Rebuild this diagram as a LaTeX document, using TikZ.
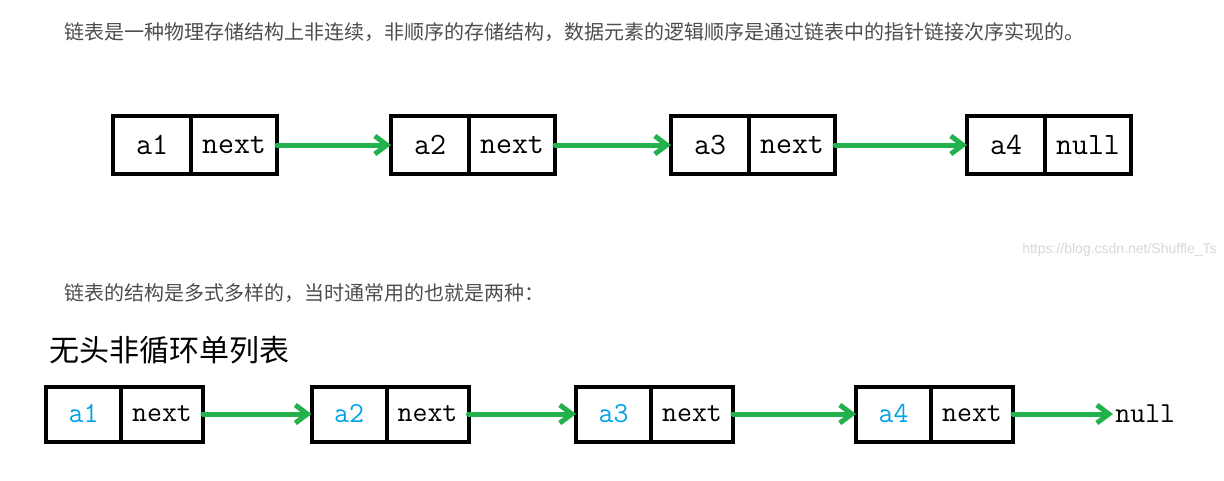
\documentclass[tikz,border=0pt]{standalone}
\usepackage{fontspec}
\usepackage{tikz}
\usetikzlibrary{arrows.meta,positioning}
\newfontfamily\cjk{Noto Sans CJK SC}
\newfontfamily\webfont{Liberation Sans}
\definecolor{linkgreen}{RGB}{34,177,76}
\definecolor{datablue}{RGB}{0,162,232}
\definecolor{bodygray}{RGB}{77,77,77}
\definecolor{markgray}{RGB}{215,215,215}
\tikzset{
  cell/.style={draw,line width=2pt,inner sep=0pt,outer sep=0pt},
  topcell/.style={cell,minimum height=29pt,font=\fontsize{15.5}{18}\selectfont\ttfamily},
  botcell/.style={cell,minimum height=27.5pt,font=\fontsize{14.5}{17}\selectfont\ttfamily},
  link/.style={-{Straight Barb[length=6pt,width=9pt]},draw=linkgreen,line width=2.5pt,line cap=round,line join=round}
}

\begin{document}
\begin{tikzpicture}[x=0.5pt,y=-0.5pt,node distance=0pt]
  \useasboundingbox (0,0) rectangle (1224,481);
  % text
  \node[anchor=west,inner sep=0pt,text=bodygray,font=\cjk\fontsize{10}{12}\selectfont] (intro) at (64,32)
    {链表是一种物理存储结构上非连续，非顺序的存储结构，数据元素的逻辑顺序是通过链表中的指针链接次序实现的。};
  \node[anchor=west,inner sep=0pt,text=bodygray,font=\cjk\fontsize{10}{12}\selectfont] (kinds) at (64,293)
    {链表的结构是多式多样的，当时通常用的也就是两种：};
  \node[anchor=west,inner sep=0pt,font=\cjk\fontsize{15}{18}\selectfont] (title) at (49,350)
    {无头非循环单列表};
  \node[anchor=east,inner sep=0pt,text=markgray,font=\webfont\fontsize{7}{8}\selectfont] (mark) at (1217,250)
    {https://blog.csdn.net/Shuffle\_Ts};

  % upper list
  \node[topcell,minimum width=39pt] (a_1) at (152,145) {a1};
  \node[topcell,minimum width=43pt,right=of a_1] (n_1) {next};
  \node[topcell,minimum width=39pt] (a_2) at (430,145) {a2};
  \node[topcell,minimum width=43pt,right=of a_2] (n_2) {next};
  \node[topcell,minimum width=39pt] (a_3) at (710,145) {a3};
  \node[topcell,minimum width=43pt,right=of a_3] (n_3) {next};
  \node[topcell,minimum width=39pt] (a_4) at (1006,145) {a4};
  \node[topcell,minimum width=43pt,right=of a_4] (n_4) {null};
  \path[link]
  (n_1) edge (a_2)
  (n_2) edge (a_3)
  (n_3) edge (a_4);

  % lower list
  \node[botcell,minimum width=37.5pt,text=datablue] (b_1) at (83.5,414) {a1};
  \node[botcell,minimum width=41pt,right=of b_1] (m_1) {next};
  \node[botcell,minimum width=37.5pt,text=datablue] (b_2) at (349,414) {a2};
  \node[botcell,minimum width=41pt,right=of b_2] (m_2) {next};
  \node[botcell,minimum width=37.5pt,text=datablue] (b_3) at (613.5,414) {a3};
  \node[botcell,minimum width=41pt,right=of b_3] (m_3) {next};
  \node[botcell,minimum width=37.5pt,text=datablue] (b_4) at (893.5,414) {a4};
  \node[botcell,minimum width=41pt,right=of b_4] (m_4) {next};
  \node[inner sep=1pt,font=\fontsize{14.5}{17}\selectfont\ttfamily,right=50pt of m_4] (end) {null};
  \path[link]
  (m_1) edge (b_2)
  (m_2) edge (b_3)
  (m_3) edge (b_4)
  (m_4) edge (end);
\end{tikzpicture}
\end{document}
